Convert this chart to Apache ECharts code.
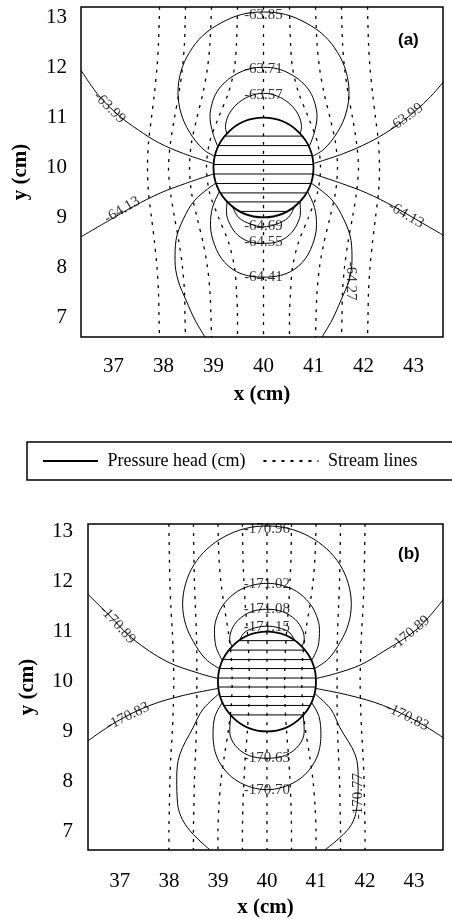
<!DOCTYPE html>
<html>
<head>
<meta charset="utf-8">
<script src="https://cdn.jsdelivr.net/npm/echarts@6/dist/echarts.min.js"></script>
<style>
  html, body { margin: 0; padding: 0; background: #fff; }
  #chart { width: 452px; height: 919px; }
</style>
</head>
<body>
<div id="chart"></div>
<script>
// tick labels
const xTicks = [37, 38, 39, 40, 41, 42, 43];
const yTicks = [7, 8, 9, 10, 11, 12, 13];

// the object: centre x, centre y, radius (cm)
const circleA = [40, 10, 1];
const circleB = [40, 10, 1];
// hatch lines inside the object (y, cm)
const hatchYa = [10.63, 10.44, 10.24, 10.06, 9.87, 9.68, 9.49, 9.31, 9.12];
const hatchYb = [10.82, 10.63, 10.44, 10.26, 10.07, 9.89, 9.70, 9.52, 9.33];

// ---- panel (a) pressure head contours ----
const a6357 = [[39.27,10.68],[39.24,10.8],[39.27,10.98],[39.36,11.15],[39.5,11.3],[39.72,11.43],[40,11.49],[40.28,11.43],[40.5,11.3],[40.64,11.15],[40.73,10.98],[40.76,10.8],[40.73,10.68]];
const a6371 = [[39.09,10.41],[38.99,10.68],[38.93,11.02],[38.97,11.28],[39.07,11.52],[39.24,11.72],[39.47,11.88],[39.72,11.98],[40,12.01],[40.28,11.98],[40.53,11.88],[40.76,11.72],[40.93,11.52],[41.03,11.28],[41.07,11.02],[41.01,10.68],[40.91,10.41]];
const a6385 = [[39.03,10.22],[38.79,10.37],[38.52,10.71],[38.35,11.09],[38.29,11.51],[38.35,11.93],[38.52,12.31],[38.79,12.65],[39.15,12.9],[39.56,13.07],[40,13.12],[40.44,13.07],[40.85,12.9],[41.21,12.65],[41.48,12.31],[41.65,11.93],[41.71,11.51],[41.65,11.09],[41.48,10.71],[41.21,10.37],[40.97,10.22]];
const a6399L = [[36.35,11.95],[36.7,11.45],[37.1,11.05],[37.5,10.75],[37.9,10.5],[38.4,10.28],[39.0,10.08]];
const a6399R = [[41.0,10.08],[41.6,10.28],[42.1,10.5],[42.5,10.73],[42.9,11.02],[43.3,11.38],[43.6,11.72]];
const a6413L = [[36.35,8.61],[36.88,8.92],[37.4,9.22],[37.94,9.49],[38.44,9.68],[39.0,9.87]];
const a6413R = [[41.0,9.87],[41.56,9.68],[42.06,9.49],[42.6,9.22],[43.1,8.93],[43.6,8.64]];
const a6427L = [[39.05,9.69],[38.63,9.35],[38.39,8.95],[38.25,8.54],[38.23,8.14],[38.29,7.74],[38.45,7.34],[38.63,6.94],[38.83,6.6]];
const a6427R = [[40.95,9.69],[41.37,9.35],[41.61,8.95],[41.75,8.54],[41.77,8.14],[41.71,7.74],[41.55,7.34],[41.37,6.94],[41.17,6.6]];
const a6441 = [[39.12,9.52],[38.98,9.2],[38.94,8.85],[39.02,8.45],[39.22,8.1],[39.55,7.87],[40,7.8],[40.45,7.87],[40.78,8.1],[40.98,8.45],[41.06,8.85],[41.02,9.2],[40.88,9.52]];
const a6455 = [[39.27,9.32],[39.26,9.1],[39.33,8.86],[39.48,8.65],[39.72,8.51],[40,8.48],[40.28,8.51],[40.52,8.65],[40.67,8.86],[40.74,9.1],[40.73,9.32]];
const a6469 = [[39.38,9.22],[39.5,9.0],[39.75,8.86],[40,8.81],[40.25,8.86],[40.5,9.0],[40.62,9.22]];

// contour labels: text, x, y
const labelsA = [
  ['-63.85', 40, 13.06], ['-63.71', 40, 11.98], ['-63.57', 40, 11.45],
  ['-64.69', 40, 8.83], ['-64.55', 40, 8.5], ['-64.41', 40, 7.8],
  ['-64.27', 41.75, 7.72],
  ['-63.99', 36.92, 11.2], ['-63.99', 42.85, 11.0],
  ['-64.13', 37.17, 9.15], ['-64.13', 42.85, 9.05]
];
const labelRotA = [0, 0, 0, 0, 0, 0, -90, -45, 36, 30, -30];

// stream lines: shared y levels and x of each line
const streamYa = [13.22, 12.5, 12, 11.5, 11, 10.5, 10, 9.5, 9, 8.5, 8, 7.5, 7, 6.6];
const streamXa = [
  [37.92,37.90,37.87,37.82,37.76,37.70,37.68,37.70,37.76,37.82,37.87,37.90,37.91,37.92],
  [38.44,38.42,38.38,38.31,38.22,38.14,38.10,38.14,38.22,38.31,38.38,38.42,38.43,38.44],
  [38.96,38.93,38.88,38.79,38.67,38.56,38.52,38.56,38.67,38.79,38.88,38.93,38.95,38.96],
  [39.48,39.46,39.42,39.30,39.10,38.92,38.86,38.92,39.10,39.30,39.42,39.46,39.48,39.48],
  [40,40,40,40,40,40,40,40,40,40,40,40,40,40],
  [40.52,40.54,40.58,40.70,40.90,41.08,41.14,41.08,40.90,40.70,40.58,40.54,40.52,40.52],
  [41.04,41.07,41.12,41.21,41.33,41.44,41.48,41.44,41.33,41.21,41.12,41.07,41.05,41.04],
  [41.56,41.58,41.62,41.69,41.78,41.86,41.90,41.86,41.78,41.69,41.62,41.58,41.57,41.56],
  [42.08,42.10,42.13,42.18,42.24,42.30,42.32,42.30,42.24,42.18,42.13,42.10,42.09,42.08]
];

// ---- panel (b) ----
const b17115 = [[39.44,10.83],[39.55,10.99],[39.77,11.08],[40,11.11],[40.23,11.08],[40.45,10.99],[40.56,10.83]];
const b17108 = [[39.29,10.7],[39.24,10.85],[39.28,11.04],[39.42,11.24],[39.68,11.4],[40,11.45],[40.32,11.4],[40.58,11.24],[40.72,11.04],[40.76,10.85],[40.71,10.7]];
const b17102 = [[39.09,10.42],[38.96,10.7],[38.93,11.05],[38.99,11.32],[39.14,11.58],[39.4,11.81],[39.7,11.93],[40,11.97],[40.3,11.93],[40.6,11.81],[40.86,11.58],[41.01,11.32],[41.07,11.05],[41.04,10.7],[40.91,10.42]];
const b17096 = [[39.03,10.26],[38.75,10.45],[38.5,10.8],[38.34,11.15],[38.28,11.55],[38.34,11.96],[38.51,12.34],[38.78,12.66],[39.14,12.91],[39.56,13.07],[40,13.12],[40.44,13.07],[40.86,12.91],[41.22,12.66],[41.49,12.34],[41.66,11.96],[41.72,11.55],[41.66,11.15],[41.5,10.8],[41.25,10.45],[40.97,10.26]];
const b17089L = [[36.35,11.75],[36.8,11.31],[37.27,10.85],[37.96,10.4],[38.63,10.16],[39.0,10.06]];
const b17089R = [[41.0,10.06],[41.4,10.16],[41.9,10.33],[42.37,10.6],[43.06,11.05],[43.6,11.65]];
const b17083L = [[36.35,8.81],[36.94,9.2],[37.61,9.52],[38.29,9.72],[39.0,9.86]];
const b17083R = [[41.0,9.86],[41.69,9.72],[42.37,9.52],[43.06,9.2],[43.6,8.87]];
const b17077L = [[39.03,9.76],[38.7,9.45],[38.49,9.07],[38.22,8.53],[38.16,8.07],[38.18,7.53],[38.37,7.08],[38.84,6.62]];
const b17077R = [[40.97,9.76],[41.3,9.45],[41.49,9.07],[41.8,8.53],[41.86,8.07],[41.84,7.53],[41.69,7.08],[41.18,6.62]];
const b17070 = [[39.09,9.58],[38.94,9.3],[38.9,8.93],[39.02,8.4],[39.4,8.0],[40,7.83],[40.6,8.0],[40.98,8.4],[41.1,8.93],[41.06,9.3],[40.91,9.58]];
const b17063 = [[39.26,9.32],[39.24,9.0],[39.35,8.72],[39.62,8.52],[40,8.46],[40.38,8.52],[40.65,8.72],[40.76,9.0],[40.74,9.32]];

const labelsB = [
  ['-170.96', 40, 13.05], ['-171.02', 40, 11.96], ['-171.08', 40, 11.45], ['-171.15', 40, 11.1],
  ['-170.63', 40, 8.47], ['-170.70', 40, 7.83],
  ['-170.77', 41.85, 7.7],
  ['-170.89', 36.95, 11.14], ['-170.89', 42.92, 10.97],
  ['-170.83', 37.16, 9.3], ['-170.83', 42.86, 9.29]
];
const labelRotB = [0, 0, 0, 0, 0, 0, 90, -48, 40, 26, -26];

const streamYb = [13.16, 12.5, 12, 11.5, 11, 10.5, 10, 9.5, 9, 8.5, 8, 7.5, 7, 6.62];
const streamXb = [
  [38.0,38.01,38.02,38.04,38.07,38.09,38.1,38.09,38.07,38.04,38.02,38.01,38.0,38.0],
  [38.5,38.51,38.52,38.54,38.56,38.57,38.57,38.57,38.56,38.54,38.52,38.51,38.5,38.5],
  [39.0,39.02,39.06,39.13,39.21,39.27,39.29,39.27,39.21,39.13,39.06,39.02,39.0,39.0],
  [39.5,39.51,39.53,39.56,39.6,39.63,39.64,39.63,39.6,39.56,39.53,39.51,39.5,39.5],
  [40,40,40,40,40,40,40,40,40,40,40,40,40,40],
  [40.5,40.49,40.47,40.44,40.4,40.37,40.36,40.37,40.4,40.44,40.47,40.49,40.5,40.5],
  [41.0,40.98,40.94,40.87,40.79,40.73,40.71,40.73,40.79,40.87,40.94,40.98,41.0,41.0],
  [41.5,41.49,41.48,41.46,41.44,41.43,41.43,41.43,41.44,41.46,41.48,41.49,41.5,41.5],
  [42.0,41.99,41.98,41.96,41.93,41.91,41.9,41.91,41.93,41.96,41.98,41.99,42.0,42.0]
];

const HEAD = 'Pressure head (cm)';
const STREAM = 'Stream lines';
const serif = 'Liberation Serif';

const chart = echarts.init(document.getElementById('chart'));
const series = [];

function addContours(list, idx) {
  list.forEach(d => {
    series.push({
      type: 'line', name: HEAD, xAxisIndex: idx, yAxisIndex: idx,
      data: d, symbol: 'none', smooth: 0.35, silent: true, z: 3,
      itemStyle: { color: '#000' },
      lineStyle: { color: '#000', width: 1 }
    });
  });
}

function addStreams(xs, ys, idx) {
  xs.forEach(line => {
    series.push({
      type: 'line', name: STREAM, xAxisIndex: idx, yAxisIndex: idx,
      data: line.map((x, i) => [x, ys[i]]), symbol: 'none', smooth: 0.3, silent: true, z: 2,
      itemStyle: { color: '#000' },
      lineStyle: { color: '#000', width: 1.3, type: [3, 6] }
    });
  });
}

function addObject(circle, hatch, idx) {
  series.push({
    type: 'custom', name: 'object', xAxisIndex: idx, yAxisIndex: idx, silent: true, z: 4,
    data: [circle],
    renderItem: (params, api) => {
      const c = api.coord([api.value(0), api.value(1)]);
      const s = api.size([api.value(2), api.value(2)]);
      return {
        type: 'ellipse',
        shape: { cx: c[0], cy: c[1], rx: s[0], ry: s[1] },
        style: { fill: 'none', stroke: '#000', lineWidth: 1.8 }
      };
    }
  });
  series.push({
    type: 'custom', name: 'hatch', xAxisIndex: idx, yAxisIndex: idx, silent: true, z: 4,
    data: hatch.map(y => [circle[0], y]),
    renderItem: (params, api) => {
      const y = api.value(1);
      const dy = y - circle[1];
      const half = Math.sqrt(circle[2] * circle[2] - dy * dy);
      const p1 = api.coord([circle[0] - half, y]);
      const p2 = api.coord([circle[0] + half, y]);
      return {
        type: 'line',
        shape: { x1: p1[0], y1: p1[1], x2: p2[0], y2: p2[1] },
        style: { stroke: '#000', lineWidth: 1 }
      };
    }
  });
}

function addLabels(labels, rots, idx) {
  series.push({
    type: 'scatter', name: 'labels', xAxisIndex: idx, yAxisIndex: idx, silent: true, z: 6,
    symbolSize: 1,
    itemStyle: { color: 'rgba(0,0,0,0)' },
    data: labels.map((l, i) => ({ name: l[0], value: [l[1], l[2]], label: { rotate: rots[i] } })),
    label: {
      show: true, position: 'inside', formatter: '{b}',
      fontFamily: serif, fontSize: 15, color: '#000'
    }
  });
}

addStreams(streamXa, streamYa, 0);
addContours([a6357, a6371, a6385, a6399L, a6399R, a6413L, a6413R, a6427L, a6427R, a6441, a6455, a6469], 0);
addObject(circleA, hatchYa, 0);
addLabels(labelsA, labelRotA, 0);

addStreams(streamXb, streamYb, 1);
addContours([b17115, b17108, b17102, b17096, b17089L, b17089R, b17083L, b17083R, b17077L, b17077R, b17070, b17063], 1);
addObject(circleB, hatchYb, 1);
addLabels(labelsB, labelRotB, 1);

function xAxis(idx, min, max, margin, gap) {
  return {
    type: 'value', gridIndex: idx, min: min, max: max,
    name: 'x (cm)', nameLocation: 'middle', nameGap: gap,
    nameTextStyle: { fontFamily: serif, fontWeight: 'bold', fontSize: 21, color: '#000' },
    axisLine: { show: false }, axisTick: { show: false }, splitLine: { show: false },
    axisLabel: { customValues: xTicks, margin: margin, fontFamily: serif, fontSize: 21, color: '#000' }
  };
}
function yAxis(idx, min, max, margin) {
  return {
    type: 'value', gridIndex: idx, min: min, max: max,
    name: 'y (cm)', nameLocation: 'middle', nameGap: 50,
    nameTextStyle: { fontFamily: serif, fontWeight: 'bold', fontSize: 21, color: '#000' },
    axisLine: { show: false }, axisTick: { show: false }, splitLine: { show: false },
    axisLabel: { customValues: yTicks, margin: margin, fontFamily: serif, fontSize: 21, color: '#000' }
  };
}

const option = {
  animation: false,
  backgroundColor: '#fff',
  grid: [
    { left: 81, top: 7, width: 362, height: 330, show: true, borderColor: '#000', borderWidth: 1.5, backgroundColor: 'transparent' },
    { left: 88, top: 524, width: 355, height: 329, show: true, borderColor: '#000', borderWidth: 1.5, backgroundColor: 'transparent' }
  ],
  xAxis: [xAxis(0, 36.35, 43.59, 19, 47), xAxis(1, 36.35, 43.59, 21, 47)],
  yAxis: [yAxis(0, 6.6, 13.22, 14), yAxis(1, 6.62, 13.16, 15)],
  legend: {
    data: [HEAD, STREAM],
    left: 27, top: 442, width: 440,
    orient: 'horizontal',
    padding: [10, 60, 10, 15],
    itemWidth: 55, itemHeight: 12, itemGap: 17,
    itemStyle: { opacity: 0, borderWidth: 0 },
    borderColor: '#000', borderWidth: 1.5,
    selectedMode: false,
    formatter: ' {name}',
    textStyle: { fontFamily: serif, fontSize: 18, color: '#000' }
  },
  graphic: [
    { type: 'text', left: 398, top: 32, style: { text: '(a)', font: 'bold 17px "Liberation Sans"', fill: '#000' } },
    { type: 'text', left: 398, top: 546, style: { text: '(b)', font: 'bold 17px "Liberation Sans"', fill: '#000' } }
  ],
  series: series
};

chart.setOption(option);
</script>
</body>
</html>
